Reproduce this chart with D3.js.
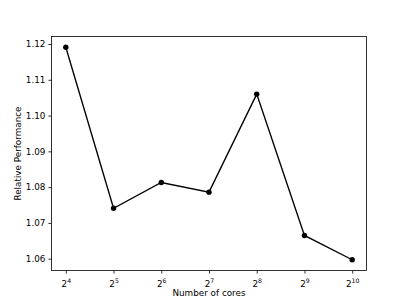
<!DOCTYPE html>
<html><head><meta charset="utf-8">
<script src="https://cdn.jsdelivr.net/npm/d3@7"></script>
<style>body{margin:0;background:#fff}svg{display:block}text{font-family:"DejaVu Sans";fill:#000}</style>
</head><body><svg id="c" width="407" height="305"></svg>
<script>
const exponents = [4,5,6,7,8,9,10];
const performance = [1.1191,1.0741,1.0813,1.0786,1.1060,1.0665,1.0597];
const yTicks = [1.06,1.07,1.08,1.09,1.10,1.11,1.12];
const xLabel = "Number of cores", yLabel = "Relative Performance";

const svg = d3.select("#c");
const L=51.5,R=366.5,T=36.5,B=270.5;
const x = d3.scaleLog().base(2).domain([Math.pow(2,3.7),Math.pow(2,10.3)]).range([L,R]);
const y = d3.scaleLinear().domain([1.0567,1.1221]).range([B,T]);
const fs = 8.8;

const xa = svg.append("g").attr("transform",`translate(0,${B})`)
  .call(d3.axisBottom(x).tickValues(exponents.map(e=>Math.pow(2,e))).tickSize(3.1).tickPadding(3).tickFormat(""));
xa.select(".domain").remove();
xa.selectAll(".tick line").attr("stroke","#000").attr("stroke-width",0.8);
xa.selectAll(".tick").each(function(d,i){
  const t=d3.select(this).append("text").attr("y",16).attr("text-anchor","middle").style("font-size",fs+"px");
  t.append("tspan").text("2");
  t.append("tspan").attr("dy",-3.5).style("font-size",(fs*0.7)+"px").text(exponents[i]);
});
const ya = svg.append("g").attr("transform",`translate(${L},0)`)
  .call(d3.axisLeft(y).tickValues(yTicks).tickSize(3.1).tickPadding(3).tickFormat(d3.format(".2f")));
ya.select(".domain").remove();
ya.selectAll(".tick line").attr("stroke","#000").attr("stroke-width",0.8);
ya.selectAll(".tick text").style("font-size",fs+"px").attr("font-family","DejaVu Sans").attr("fill","#000");

svg.append("rect").attr("x",L).attr("y",T).attr("width",R-L).attr("height",B-T).attr("fill","none").attr("stroke","#000").attr("stroke-width",0.8);

const pts = exponents.map((e,i)=>[x(Math.pow(2,e)),y(performance[i])]);
svg.append("path").attr("d",d3.line()(pts)).attr("fill","none").attr("stroke","#000").attr("stroke-width",1.35);
svg.selectAll("circle.m").data(pts).enter().append("circle").attr("cx",d=>d[0]).attr("cy",d=>d[1]).attr("r",2.7).attr("fill","#000");

svg.append("text").attr("x",(L+R)/2).attr("y",296).attr("text-anchor","middle").style("font-size",fs+"px").text(xLabel);
svg.append("text").attr("transform",`translate(20.5,${(T+B)/2}) rotate(-90)`).attr("text-anchor","middle").style("font-size",fs+"px").text(yLabel);
</script></body></html>
